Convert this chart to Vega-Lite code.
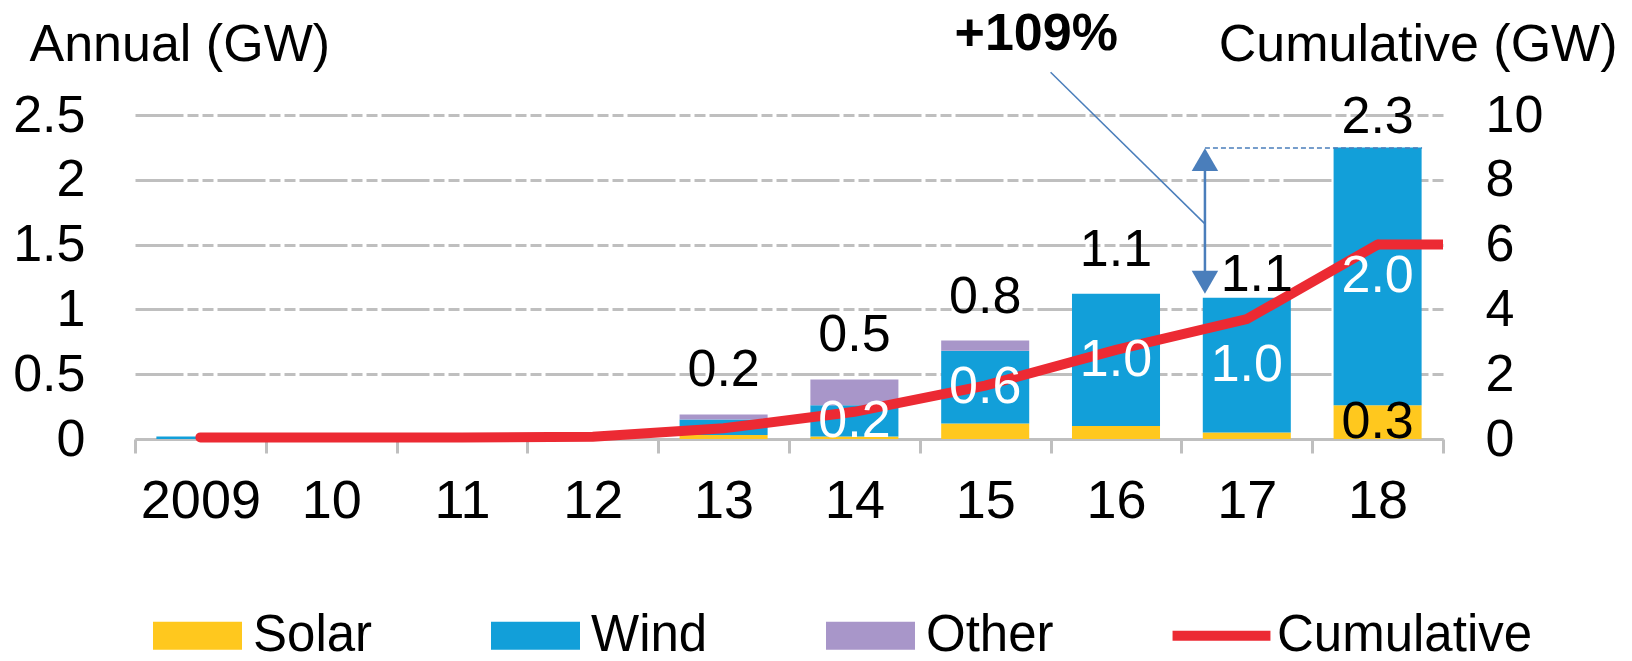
{
  "$schema": "https://vega.github.io/schema/vega-lite/v6.json",
  "width": 1308,
  "height": 324,
  "autosize": {"type": "none"},
  "padding": {"left": 135, "top": 115, "right": 189, "bottom": 222},
  "background": "white",
  "config": {
    "font": "Liberation Sans",
    "view": {"stroke": null},
    "axis": {"labelFont": "Liberation Sans", "titleFont": "Liberation Sans", "labelColor": "black", "titleColor": "black", "titleFontWeight": "normal"},
    "text": {"font": "Liberation Sans"},
    "legend": {
      "orient": "none",
      "legendX": 18,
      "legendY": 476,
      "direction": "horizontal",
      "columns": 4,
      "title": null,
      "padding": 0,
      "labelFont": "Liberation Sans",
      "labelFontSize": 51,
      "labelColor": "black",
      "labelLimit": 0,
      "labelOffset": 11,
      "columnPadding": 118,
      "symbolSize": 7921,
      "symbolStrokeWidth": 0,
      "symbolOpacity": 1
    }
  },
  "datasets": {
    "bars": [
      {"year": "2009", "source": "Solar", "sidx": 0, "value": 0, "label": ""},
      {"year": "2009", "source": "Wind", "sidx": 1, "value": 0.02, "label": ""},
      {"year": "2009", "source": "Other", "sidx": 2, "value": 0, "label": ""},
      {"year": "10", "source": "Solar", "sidx": 0, "value": 0, "label": ""},
      {"year": "10", "source": "Wind", "sidx": 1, "value": 0, "label": ""},
      {"year": "10", "source": "Other", "sidx": 2, "value": 0, "label": ""},
      {"year": "11", "source": "Solar", "sidx": 0, "value": 0, "label": ""},
      {"year": "11", "source": "Wind", "sidx": 1, "value": 0, "label": ""},
      {"year": "11", "source": "Other", "sidx": 2, "value": 0, "label": ""},
      {"year": "12", "source": "Solar", "sidx": 0, "value": 0, "label": ""},
      {"year": "12", "source": "Wind", "sidx": 1, "value": 0, "label": ""},
      {"year": "12", "source": "Other", "sidx": 2, "value": 0, "label": ""},
      {"year": "13", "source": "Solar", "sidx": 0, "value": 0.03, "label": ""},
      {"year": "13", "source": "Wind", "sidx": 1, "value": 0.12, "label": ""},
      {"year": "13", "source": "Other", "sidx": 2, "value": 0.04, "label": ""},
      {"year": "14", "source": "Solar", "sidx": 0, "value": 0.02, "label": ""},
      {"year": "14", "source": "Wind", "sidx": 1, "value": 0.24, "label": "0.2"},
      {"year": "14", "source": "Other", "sidx": 2, "value": 0.2, "label": ""},
      {"year": "15", "source": "Solar", "sidx": 0, "value": 0.12, "label": ""},
      {"year": "15", "source": "Wind", "sidx": 1, "value": 0.56, "label": "0.6"},
      {"year": "15", "source": "Other", "sidx": 2, "value": 0.08, "label": ""},
      {"year": "16", "source": "Solar", "sidx": 0, "value": 0.1, "label": ""},
      {"year": "16", "source": "Wind", "sidx": 1, "value": 1.02, "label": "1.0"},
      {"year": "16", "source": "Other", "sidx": 2, "value": 0, "label": ""},
      {"year": "17", "source": "Solar", "sidx": 0, "value": 0.05, "label": ""},
      {"year": "17", "source": "Wind", "sidx": 1, "value": 1.04, "label": "1.0"},
      {"year": "17", "source": "Other", "sidx": 2, "value": 0, "label": ""},
      {"year": "18", "source": "Solar", "sidx": 0, "value": 0.26, "label": "0.3"},
      {"year": "18", "source": "Wind", "sidx": 1, "value": 1.99, "label": "2.0"},
      {"year": "18", "source": "Other", "sidx": 2, "value": 0, "label": ""}
    ],
    "totals": [
      {"year": "13", "total": 0.19, "label": "0.2"},
      {"year": "14", "total": 0.46, "label": "0.5"},
      {"year": "15", "total": 0.76, "label": "0.8"},
      {"year": "16", "total": 1.12, "label": "1.1"},
      {"year": "17", "total": 1.09, "label": "1.1"},
      {"year": "18", "total": 2.25, "label": "2.3"}
    ],
    "cum": [
      {"year": "2009", "cum": 0.05},
      {"year": "10", "cum": 0.05},
      {"year": "11", "cum": 0.05},
      {"year": "12", "cum": 0.07},
      {"year": "13", "cum": 0.33},
      {"year": "14", "cum": 0.84},
      {"year": "15", "cum": 1.65},
      {"year": "16", "cum": 2.75},
      {"year": "17", "cum": 3.7},
      {"year": "18", "cum": 6.0}
    ]
  },
  "layer": [
    {
      "data": {"name": "bars"},
      "mark": {"type": "bar", "width": {"band": 0.673}},
      "encoding": {
        "x": {
          "field": "year", "type": "nominal",
          "scale": {"domain": ["2009", "10", "11", "12", "13", "14", "15", "16", "17", "18"], "paddingInner": 0, "paddingOuter": 0},
          "axis": {"title": null, "labelAngle": 0, "labelFontSize": 54, "labelPadding": 21, "tickBand": "extent", "tickSize": 14, "tickWidth": 3, "tickColor": "#BFBFBF", "domainColor": "#BFBFBF", "domainWidth": 3, "grid": false}
        },
        "y": {
          "field": "value", "type": "quantitative", "stack": "zero",
          "scale": {"domain": [0, 2.5], "nice": false},
          "axis": {"title": "Annual (GW)", "titleAngle": 0, "titleX": -106, "titleY": -55, "titleAlign": "left", "titleBaseline": "alphabetic", "titleFontSize": 52, "values": [0, 0.5, 1, 1.5, 2, 2.5], "format": "~g", "labelFontSize": 52, "labelPadding": 50, "ticks": false, "tickSize": 0, "domain": false, "grid": true, "gridColor": "#BFBFBF", "gridWidth": 3, "gridDash": [48, 4, 11, 4, 11, 4]}
        },
        "color": {
          "field": "source", "type": "nominal",
          "scale": {"domain": ["Solar", "Wind", "Other", "Cumulative"], "range": ["#FFC81E", "#129FD9", "#A896C9", "#EC2A33"]},
          "legend": {
            "encode": {
              "symbols": {
                "update": {
                  "shape": {"signal": "datum.value === 'Cumulative' ? 'M-1.1,-0.11H1.1V0.11H-1.1Z' : 'M-1,-0.315H1V0.315H-1Z'"},
                  "fill": {"scale": "color", "field": "value"},
                  "stroke": {"value": "transparent"},
                  "opacity": {"value": 1}
                }
              }
            }
          }
        },
        "order": {"field": "sidx"}
      }
    },
    {
      "layer": [
        {
          "data": {"name": "cum"},
          "mark": {"type": "line", "strokeWidth": 10, "strokeCap": "round", "strokeJoin": "miter"},
          "encoding": {
            "x": {"field": "year", "type": "nominal"},
            "y": {
              "field": "cum", "type": "quantitative",
              "scale": {"domain": [0, 10], "nice": false},
              "axis": {"orient": "right", "title": "Cumulative (GW)", "titleAngle": 0, "titleX": 174, "titleY": -55, "titleAlign": "right", "titleBaseline": "alphabetic", "titleFontSize": 52, "values": [0, 2, 4, 6, 8, 10], "labelFontSize": 52, "labelPadding": 42, "ticks": false, "tickSize": 0, "domain": false, "grid": false}
            },
            "color": {"datum": "Cumulative"}
          }
        },
        {
          "data": {"name": "cum"},
          "transform": [{"filter": "datum.year === '18'"}],
          "mark": {"type": "rule", "strokeWidth": 10},
          "encoding": {
            "x": {"field": "year", "type": "nominal"},
            "x2": {"datum": "18", "bandPosition": 1},
            "y": {"field": "cum", "type": "quantitative"},
            "color": {"datum": "Cumulative"}
          }
        }
      ]
    },
    {
      "layer": [
        {
          "data": {"name": "bars"},
          "transform": [
            {"stack": "value", "groupby": ["year"], "sort": [{"field": "sidx"}], "as": ["v0", "v1"]},
            {"filter": "datum.label !== ''"},
            {"calculate": "(datum.v0 + datum.v1) / 2", "as": "mid"}
          ],
          "mark": {"type": "text", "fontSize": 52, "baseline": "middle", "align": "center"},
          "encoding": {
            "x": {"field": "year", "type": "nominal"},
            "y": {"field": "mid", "type": "quantitative", "scale": {"domain": [0, 2.5], "nice": false}, "axis": null},
            "text": {"field": "label"},
            "color": {"condition": {"test": "datum.source === 'Wind'", "value": "white"}, "value": "black"}
          }
        },
        {
          "data": {"name": "totals"},
          "transform": [{"filter": "datum.year !== '17' && datum.year !== '18'"}],
          "mark": {"type": "text", "fontSize": 52, "baseline": "alphabetic", "align": "center", "dy": -28, "color": "black"},
          "encoding": {
            "x": {"field": "year", "type": "nominal"},
            "y": {"field": "total", "type": "quantitative", "axis": null},
            "text": {"field": "label"}
          }
        },
        {
          "data": {"name": "totals"},
          "transform": [{"filter": "datum.year === '17'"}],
          "mark": {"type": "text", "fontSize": 52, "baseline": "alphabetic", "align": "center", "dy": -7, "dx": 10, "color": "black"},
          "encoding": {
            "x": {"field": "year", "type": "nominal"},
            "y": {"field": "total", "type": "quantitative", "axis": null},
            "text": {"field": "label"}
          }
        },
        {
          "data": {"name": "totals"},
          "transform": [{"filter": "datum.year === '18'"}],
          "mark": {"type": "text", "fontSize": 52, "baseline": "alphabetic", "align": "center", "dy": -14, "color": "black"},
          "encoding": {
            "x": {"field": "year", "type": "nominal"},
            "y": {"field": "total", "type": "quantitative", "axis": null},
            "text": {"field": "label"}
          }
        },
        {
          "data": {"values": [{"label": "+109%"}]},
          "mark": {"type": "text", "fontSize": 52, "fontWeight": "bold", "baseline": "alphabetic", "align": "center", "color": "black"},
          "encoding": {
            "x": {"datum": "15", "bandPosition": 0.89},
            "y": {"datum": 3.0, "type": "quantitative", "axis": null},
            "text": {"field": "label"}
          }
        },
        {
          "data": {"values": [{"a": 1}]},
          "mark": {"type": "rule", "strokeWidth": 1.5, "color": "#4A7EBB"},
          "encoding": {
            "x": {"datum": "16", "bandPosition": 0},
            "x2": {"datum": "17", "bandPosition": 0.18},
            "y": {"datum": 2.83, "type": "quantitative", "axis": null},
            "y2": {"datum": 1.66}
          }
        },
        {
          "data": {"values": [{"a": 1}]},
          "mark": {"type": "rule", "strokeWidth": 2.5, "color": "#4A7EBB"},
          "encoding": {
            "x": {"datum": "17", "bandPosition": 0.18},
            "y": {"datum": 2.2, "type": "quantitative", "axis": null},
            "y2": {"datum": 1.17}
          }
        },
        {
          "data": {"values": [{"a": 1}]},
          "mark": {"type": "rule", "strokeWidth": 1.5, "strokeDash": [5, 3], "color": "#4A7EBB"},
          "encoding": {
            "x": {"datum": "17", "bandPosition": 0.18},
            "x2": {"datum": "18", "bandPosition": 0.84},
            "y": {"datum": 2.245, "type": "quantitative", "axis": null}
          }
        },
        {
          "data": {"values": [{"dir": "up", "v": 2.156}, {"dir": "down", "v": 1.21}]},
          "mark": {"type": "point", "filled": true, "size": 700, "opacity": 1, "color": "#4A7EBB"},
          "encoding": {
            "x": {"datum": "17", "bandPosition": 0.18},
            "y": {"field": "v", "type": "quantitative", "axis": null},
            "shape": {"field": "dir", "type": "nominal", "scale": {"domain": ["up", "down"], "range": ["triangle-up", "triangle-down"]}, "legend": null}
          }
        }
      ]
    }
  ],
  "resolve": {"scale": {"y": "independent"}}
}
